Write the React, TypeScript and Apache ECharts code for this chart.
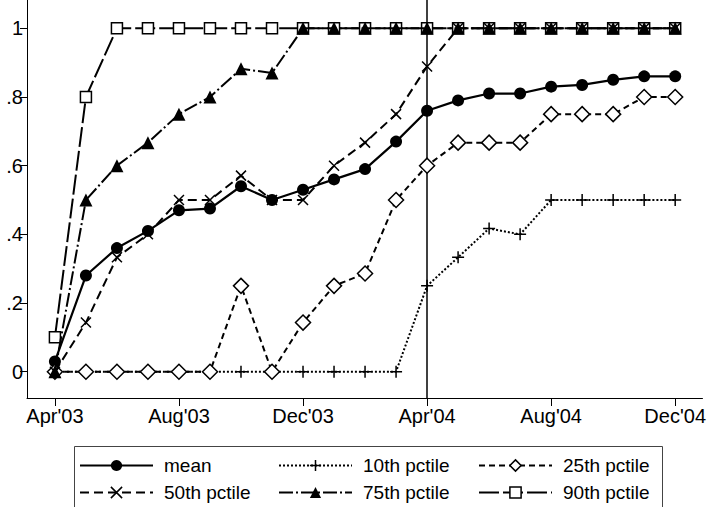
import React, { useEffect, useRef } from "react";
import * as echarts from "echarts";

const months = [
  "Apr'03", "May'03", "Jun'03", "Jul'03", "Aug'03", "Sep'03", "Oct'03", "Nov'03",
  "Dec'03", "Jan'04", "Feb'04", "Mar'04", "Apr'04", "May'04", "Jun'04", "Jul'04",
  "Aug'04", "Sep'04", "Oct'04", "Nov'04", "Dec'04",
];
const xTickLabels = ["Apr'03", "Aug'03", "Dec'03", "Apr'04", "Aug'04", "Dec'04"];
const yTickValues = [0, 0.2, 0.4, 0.6, 0.8, 1];
const yTickLabels = ["0", ".2", ".4", ".6", ".8", "1"];
const markerMonth = "Apr'04";

const meanVals = [0.03, 0.28, 0.36, 0.41, 0.47, 0.475, 0.54, 0.5, 0.53, 0.56, 0.59, 0.67, 0.76, 0.79, 0.81, 0.81, 0.83, 0.835, 0.85, 0.86, 0.86];
const p10Vals = [0, 0, 0, 0, 0, 0, 0, 0, 0, 0, 0, 0, 0.25, 0.333, 0.417, 0.4, 0.5, 0.5, 0.5, 0.5, 0.5];
const p25Vals = [0, 0, 0, 0, 0, 0, 0.25, 0, 0.143, 0.25, 0.286, 0.5, 0.6, 0.667, 0.667, 0.667, 0.75, 0.75, 0.75, 0.8, 0.8];
const p50Vals = [0, 0.143, 0.333, 0.4, 0.5, 0.5, 0.571, 0.5, 0.5, 0.6, 0.667, 0.75, 0.889, 1, 1, 1, 1, 1, 1, 1, 1];
const p75Vals = [0, 0.5, 0.6, 0.667, 0.75, 0.8, 0.882, 0.87, 1, 1, 1, 1, 1, 1, 1, 1, 1, 1, 1, 1, 1];
const p90Vals = [0.1, 0.8, 1, 1, 1, 1, 1, 1, 1, 1, 1, 1, 1, 1, 1, 1, 1, 1, 1, 1, 1];

const seriesNames = ["mean", "10th pctile", "25th pctile", "50th pctile", "75th pctile", "90th pctile"];

const FONT = "Liberation Sans, Arial, sans-serif";
const PLUS = "path://M5,0L5,10M0,5L10,5";
const CROSS = "path://M0,0L10,10M10,0L0,10";

const toPairs = (vals: number[]) => vals.map((v, i) => [i, v]);

export default function App() {
  const ref = useRef<HTMLDivElement>(null);
  useEffect(() => {
    if (!ref.current) return;
    const chart = echarts.init(ref.current, null, { renderer: "svg" });
    const tickIdx = xTickLabels.map((l) => months.indexOf(l));
    const styles = [
      { symbol: "circle", size: 12, dash: "solid", width: 2.2, fill: "#000", bw: 0, z: 4 },
      { symbol: PLUS, size: 12, dash: [2, 2], width: 2, fill: "#000", bw: 1.5, z: 5 },
      { symbol: "diamond", size: 15, dash: [6, 4], width: 2, fill: "#fff", bw: 1.5, z: 6 },
      { symbol: CROSS, size: 10, dash: [9, 5], width: 2, fill: "#000", bw: 1.5, z: 8 },
      { symbol: "triangle", size: 13, dash: [14, 3, 2, 3], width: 2, fill: "#000", bw: 0, z: 7 },
      { symbol: "rect", size: 11, dash: [20, 4], width: 2, fill: "#fff", bw: 1.5, z: 3 },
    ];
    const allVals = [meanVals, p10Vals, p25Vals, p50Vals, p75Vals, p90Vals];
    const series: any[] = seriesNames.map((name, k) => ({
      type: "line",
      name,
      data: toPairs(allVals[k]),
      symbol: styles[k].symbol,
      symbolSize: styles[k].size,
      showAllSymbol: true,
      lineStyle: { color: "#000", width: styles[k].width, type: styles[k].dash },
      itemStyle: { color: styles[k].fill, borderColor: "#000", borderWidth: styles[k].bw, opacity: 1 },
      emphasis: { disabled: true },
      z: styles[k].z,
    }));
    series[0].markLine = {
      silent: true,
      symbol: ["none", "none"],
      label: { show: false },
      lineStyle: { color: "#000", width: 1.5, type: "solid" },
      data: [{ xAxis: months.indexOf(markerMonth) }],
    };

    const colX = [79, 278, 478];
    const rowY = [456, 483];
    const legends = seriesNames.map((name, k) => ({
      show: true,
      data: [name],
      left: colX[k % 3],
      top: rowY[Math.floor(k / 3)],
      padding: 0,
      itemWidth: 73,
      itemHeight: 14,
      selectedMode: false,
      textStyle: { fontFamily: FONT, fontSize: 19, color: "#000", padding: [0, 0, 0, 6] },
      itemStyle: { borderColor: "#000", borderWidth: styles[k].bw },
    }));

    chart.setOption({
      animation: false,
      backgroundColor: "#fff",
      grid: { left: 27, right: 4, top: 0, bottom: 109, containLabel: false },
      xAxis: {
        type: "value",
        min: -0.9,
        max: 20.88,
        splitLine: { show: false },
        axisLine: { show: true, onZero: false, lineStyle: { color: "#000", width: 1 } },
        axisTick: { show: true, length: 8, lineStyle: { color: "#000" }, customValues: tickIdx },
        axisLabel: {
          customValues: tickIdx,
          formatter: (v: number) => months[Math.round(v)] ?? "",
          fontFamily: FONT,
          fontSize: 20,
          color: "#000",
          margin: 8,
        },
      },
      yAxis: {
        type: "value",
        min: -0.0766,
        max: 1.0824,
        splitLine: { show: false },
        axisLine: { show: true, onZero: false, lineStyle: { color: "#000", width: 1 } },
        axisTick: { show: true, length: 7, lineStyle: { color: "#000" }, customValues: yTickValues },
        axisLabel: {
          customValues: yTickValues,
          formatter: (v: number) => {
            const i = yTickValues.findIndex((t) => Math.abs(t - v) < 1e-6);
            return i >= 0 ? yTickLabels[i] : "";
          },
          fontFamily: FONT,
          fontSize: 20,
          color: "#000",
          margin: 4,
        },
      },
      legend: legends,
      graphic: [
        {
          type: "rect",
          left: 72,
          top: 444,
          shape: { width: 588, height: 62 },
          style: { fill: "none", stroke: "#444", lineWidth: 1 },
          silent: true,
        },
      ],
      series,
    });
    return () => chart.dispose();
  }, []);
  return <div ref={ref} style={{ width: 709, height: 507, position: "absolute", left: 0, top: 0 }} />;
}
